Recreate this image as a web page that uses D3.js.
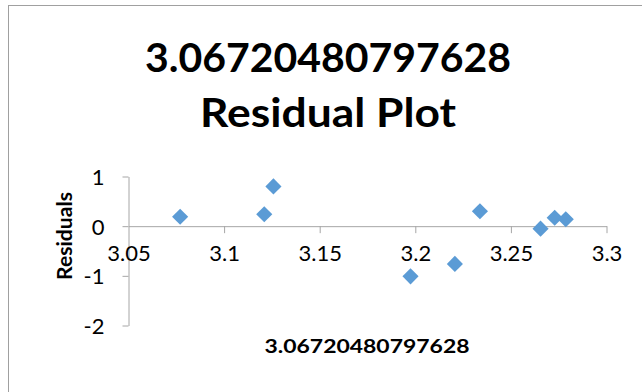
<!DOCTYPE html>
<html>
<head>
<meta charset="utf-8">
<script src="https://cdn.jsdelivr.net/npm/d3@7"></script>
<style>
  html, body { margin: 0; padding: 0; background: #fff; }
  svg { display: block; }
  text { font-family: Lato, "Open Sans", sans-serif; fill: #000; }
</style>
</head>
<body>
<svg id="chart" width="642" height="392"></svg>
<script>
// Predicted values (x) and their residuals (y)
const xValues = [3.077, 3.121, 3.1258, 3.1975, 3.2207, 3.2338, 3.2655, 3.2729, 3.2787];
const residuals = [0.19, 0.24, 0.80, -1.01, -0.76, 0.30, -0.05, 0.17, 0.14];

const xTicks = [3.05, 3.1, 3.15, 3.2, 3.25, 3.3];
const yTicks = [-2, -1, 0, 1];

const titleLines = ["3.06720480797628", "Residual Plot"];
const xAxisTitle = "3.06720480797628";
const yAxisTitle = "Residuals";

const svg = d3.select("#chart");

// chart frame
svg.append("rect")
  .attr("x", 8.5).attr("y", 5.5)
  .attr("width", 660).attr("height", 420)
  .attr("fill", "none").attr("stroke", "#a0a0a0").attr("stroke-width", 1);

const x = d3.scaleLinear().domain([3.05, 3.3]).range([128.5, 606.5]);
const y = d3.scaleLinear().domain([-2, 1]).range([325.5, 176.5]);

const axisColor = "#a6a6a6";
const plainNum = d => String(d); // hyphen-minus, no trailing zeros

// title
svg.append("text")
  .attr("x", 328).attr("text-anchor", "middle")
  .attr("font-weight", "bold").attr("font-size", 41)
  .selectAll("tspan").data(titleLines).join("tspan")
  .attr("x", 328).attr("y", (d, i) => 72 + i * 55)
  .attr("textLength", (d, i) => i === 0 ? 366 : 256)
  .attr("lengthAdjust", "spacingAndGlyphs")
  .text(d => d);

// y axis
const yAxis = svg.append("g")
  .attr("transform", `translate(${x(3.05)},0)`)
  .call(d3.axisLeft(y).tickValues(yTicks).tickFormat(plainNum).tickSize(6).tickSizeOuter(0).tickPadding(18));
yAxis.select(".domain").attr("stroke", axisColor);
yAxis.selectAll(".tick line").attr("stroke", axisColor);
yAxis.selectAll(".tick text").attr("font-size", 22).attr("fill", "#000")
  .attr("font-family", "Lato, sans-serif").attr("dy", "0.36em");

// x axis crossing at y = 0
const xAxis = svg.append("g")
  .attr("transform", `translate(0,${y(0)})`)
  .call(d3.axisBottom(x).tickValues(xTicks).tickFormat(plainNum).tickSize(7).tickSizeOuter(0).tickPadding(10));
xAxis.select(".domain").attr("stroke", axisColor);
xAxis.selectAll(".tick line").attr("stroke", axisColor)
  .attr("display", d => d === 3.05 ? "none" : null);
xAxis.selectAll(".tick text").attr("font-size", 22).attr("fill", "#000")
  .attr("font-family", "Lato, sans-serif").attr("dy", "0.8em");

// axis titles
svg.append("text")
  .attr("x", 367).attr("y", 353)
  .attr("text-anchor", "middle").attr("font-weight", "bold").attr("font-size", 19)
  .attr("textLength", 205).attr("lengthAdjust", "spacingAndGlyphs")
  .text(xAxisTitle);

svg.append("text")
  .attr("transform", "translate(72,236) rotate(-90)")
  .attr("text-anchor", "middle").attr("font-weight", "bold").attr("font-size", 21)
  .attr("textLength", 88).attr("lengthAdjust", "spacingAndGlyphs")
  .text(yAxisTitle);

// residual markers
const diamond = d3.symbol().type(d3.symbolSquare).size(130);
svg.append("g").selectAll("path")
  .data(xValues.map((v, i) => [v, residuals[i]]))
  .join("path")
  .attr("d", diamond)
  .attr("transform", d => `translate(${x(d[0])},${y(d[1])}) rotate(45)`)
  .attr("fill", "#5b9bd5");
</script>
</body>
</html>
